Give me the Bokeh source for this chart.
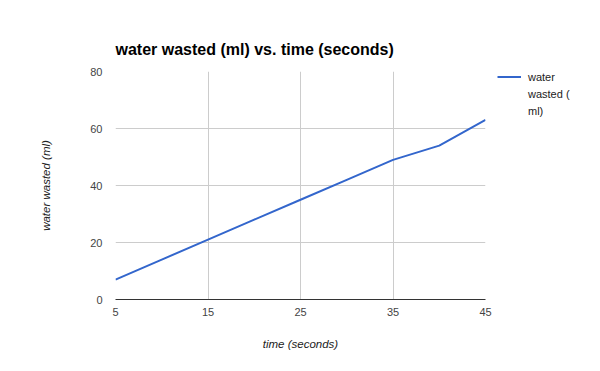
from bokeh.plotting import figure
from bokeh.layouts import row
from bokeh.models import Range1d, FixedTicker, Legend, LegendItem
from bokeh.embed import file_html
from bokeh.resources import INLINE

time_s = [5, 10, 15, 20, 25, 30, 35, 40, 45]
water_ml = [7, 14, 21, 28, 35, 42, 49, 54, 63]
x_ticks = [5, 15, 25, 35, 45]
y_ticks = [0, 20, 40, 60, 80]
legend_lines = ["water", "wasted (", "ml)"]

FONT = "Liberation Sans"
LINE_COLOR = "#3366CC"

p = figure(width=495, height=371, output_backend="svg", toolbar_location=None,
           x_range=Range1d(5, 45), y_range=Range1d(0, 80),
           min_border_left=115, min_border_right=10, min_border_top=71, min_border_bottom=72,
           title="water wasted (ml) vs. time (seconds)")
p.outline_line_color = None
p.background_fill_color = "white"
p.border_fill_color = "white"

p.title.text_font = FONT
p.title.text_font_size = "16px"
p.title.text_font_style = "bold"
p.title.text_color = "#000000"
p.title.align = "left"
p.title.standoff = 27

p.line(time_s, water_ml, line_color=LINE_COLOR, line_width=2)

for ax in (p.xaxis[0], p.yaxis[0]):
    ax.major_label_text_font = FONT
    ax.major_label_text_font_size = "11px"
    ax.major_label_text_color = "#444444"
    ax.axis_label_text_font = FONT
    ax.axis_label_text_font_size = "11.5px"
    ax.axis_label_text_font_style = "italic"
    ax.axis_label_text_color = "#222222"
    ax.major_tick_line_color = None
    ax.minor_tick_line_color = None

p.xaxis.ticker = FixedTicker(ticks=x_ticks)
p.yaxis.ticker = FixedTicker(ticks=y_ticks)
p.xaxis.axis_label = "time (seconds)"
p.yaxis.axis_label = "water wasted (ml)"
p.xaxis.axis_line_color = "#333333"
p.xaxis.axis_line_width = 1
p.yaxis.axis_line_color = None
p.xaxis.major_label_standoff = 2
p.xaxis.axis_label_standoff = 19
p.yaxis.major_label_standoff = 7
p.yaxis.axis_label_standoff = 35

p.xgrid.ticker = FixedTicker(ticks=x_ticks)
p.ygrid.ticker = FixedTicker(ticks=y_ticks[1:])
p.xgrid.grid_line_color = "#cccccc"
p.ygrid.grid_line_color = "#cccccc"

# legend panel (separate small figure to the right of the chart)
q = figure(width=105, height=371, output_backend="svg", toolbar_location=None,
           x_range=Range1d(0, 1), y_range=Range1d(0, 1),
           min_border=0)
q.axis.visible = False
q.grid.visible = False
q.outline_line_color = None
q.border_fill_color = "white"
q.background_fill_color = "white"
# series drawn out of this panel's view; only used for its legend glyph
series = q.line(time_s, water_ml, line_color=LINE_COLOR, line_width=2)
blank = q.line(time_s, water_ml, line_alpha=0)

items = [LegendItem(label=legend_lines[0], renderers=[series])] + \
        [LegendItem(label=t, renderers=[blank]) for t in legend_lines[1:]]
legend = Legend(items=items, location=(2, 180), margin=0, padding=0, spacing=0,
                glyph_width=24, glyph_height=17, label_height=17, label_standoff=7,
                label_text_font=FONT, label_text_font_size="11px", label_text_color="#222222",
                border_line_color=None, background_fill_alpha=0)
q.add_layout(legend)

layout = row(p, q, spacing=0)
open("out.html", "w").write(file_html(layout, INLINE))
